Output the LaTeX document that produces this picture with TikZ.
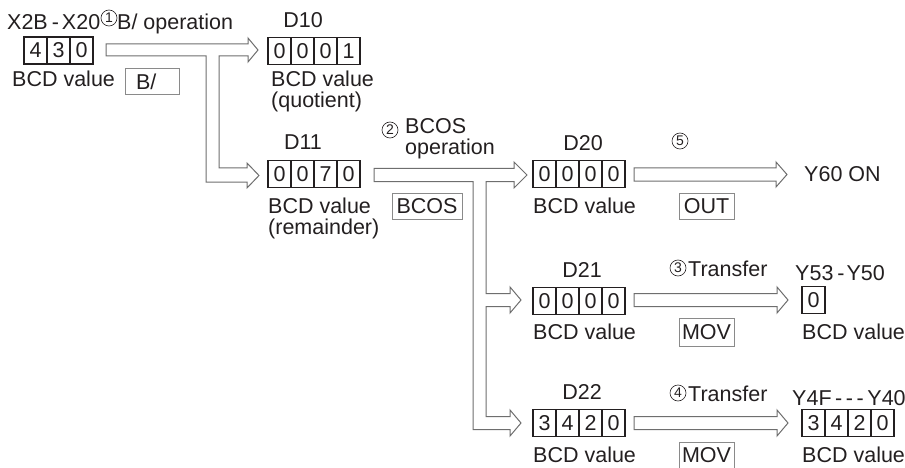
\documentclass[tikz,border=0pt]{standalone}
\usepackage{fontspec}
\setmainfont{Liberation Sans}
\definecolor{ink}{HTML}{231F20}
\definecolor{arrowgray}{HTML}{6E6E6E}
\definecolor{boxgray}{HTML}{8A8A8A}
\newcommand{\regbox}[4]{%
  \foreach \dg [count=\k] in {#4}{%
    \node[cell] (#1-\k) at ({#2+11.5+23*(\k-1)},#3) {\dg};}}
\begin{document}
\begin{tikzpicture}[x=1pt,y=-1pt,
  txt/.style={font=\fontsize{21.5}{21}\selectfont, inner sep=0pt, text=ink, align=left},
  cell/.style={draw=ink, line width=1.3pt, minimum width=23pt, minimum height=27pt,
    inner sep=0pt, font=\fontsize{21.5}{21}\selectfont, text=ink},
  lbox/.style={draw=boxgray, line width=0.9pt, minimum height=26pt, inner sep=0pt,
    font=\fontsize{21.5}{21}\selectfont, text=ink},
  num/.style={circle, draw=ink, line width=0.6pt, minimum size=16pt, inner sep=0pt,
    font=\fontsize{14}{14}\selectfont, text=ink},
  blk/.style={draw=arrowgray, line width=1pt, fill=white, line join=miter}]
\useasboundingbox (0,0) rectangle (905,468);

% ---------- block arrows ----------
\draw[blk] (106,44) -- (248,44) -- (248,38) -- (258,50) -- (248,62) -- (248,56)
  -- (219,56) -- (219,168) -- (247,168) -- (247,163) -- (259,175.5) -- (247,188)
  -- (247,182) -- (206,182) -- (206,56) -- (106,56) -- cycle;
\draw[blk] (374,168.5) -- (514,168.5) -- (514,162) -- (527,175) -- (514,188) -- (514,181.5)
  -- (486,181.5) -- (486,293.5) -- (510,293.5) -- (510,287) -- (521,300) -- (510,313)
  -- (510,306.5) -- (486,306.5) -- (486,416.5) -- (510,416.5) -- (510,410) -- (521,423)
  -- (510,436) -- (510,429.5) -- (473,429.5) -- (473,181.5) -- (374,181.5) -- cycle;
\draw[blk] (634,168) -- (776,168) -- (776,162) -- (787,174.5) -- (776,187) -- (776,181)
  -- (634,181) -- cycle;
\draw[blk] (634,293.5) -- (777,293.5) -- (777,287) -- (788,300) -- (777,313) -- (777,306.5)
  -- (634,306.5) -- cycle;
\draw[blk] (634,416.5) -- (777,416.5) -- (777,410) -- (788,423) -- (777,436) -- (777,429.5)
  -- (634,429.5) -- cycle;

% ---------- source ----------
\node[txt, anchor=base west] (xlab) at (7,30) {X2B\hspace{4pt}-\hspace{3pt}X20};
\node[num] (n1) at (109,18) {1};
\node[txt, anchor=base west] (op1) at (117,30) {B/ operation};
\regbox{src}{24}{50.5}{4,3,0}
\node[txt, anchor=base west] (srcv) at (12,87) {BCD value};
\node[lbox, minimum width=54pt] (bdiv) at (152,81.5) {\makebox[32pt][l]{B/}};

% ---------- D10 / D11 ----------
\node[txt] (d10l) at (303,20) {D10};
\regbox{d10}{268}{51}{0,0,0,1}
\node[txt, anchor=base west] (d10v) at (271,108) {BCD value\\(quotient)};
\node[txt] (d11l) at (303,142) {D11};
\regbox{d11}{268}{174}{0,0,7,0}
\node[txt, anchor=base west] (d11v) at (268,234) {BCD value\\(remainder)};

% ---------- BCOS ----------
\node[num] (n2) at (390,130) {2};
\node[txt, anchor=base west] (op2) at (405,155) {BCOS\\operation};
\node[lbox, minimum width=70pt] (bcos) at (427,206) {BCOS};

% ---------- D20 ----------
\node[txt] (d20l) at (583,143) {D20};
\regbox{d20}{533}{174}{0,0,0,0}
\node[txt, anchor=base west] (d20v) at (533,213) {BCD value};
\node[num] (n5) at (680,141) {5};
\node[lbox, minimum width=55pt] (out) at (706.5,206.5) {OUT};
\node[txt, anchor=base west] (y60) at (804,181) {Y60 ON};

% ---------- D21 ----------
\node[txt] (d21l) at (582,270) {D21};
\regbox{d21}{533}{301}{0,0,0,0}
\node[txt, anchor=base west] (d21v) at (533,339) {BCD value};
\node[num] (n3) at (678,268) {3};
\node[txt, anchor=base west] (tr3) at (688,276) {Transfer};
\node[lbox, minimum width=55pt, minimum height=28pt] (mov1) at (706.5,332) {MOV};
\node[txt, anchor=base west] (y53) at (795,280) {Y53\hspace{4pt}-\hspace{2pt}Y50};
\regbox{y5}{802}{300}{0}
\node[txt, anchor=base west] (y5v) at (802,339) {BCD value};

% ---------- D22 ----------
\node[txt] (d22l) at (582,392) {D22};
\regbox{d22}{533}{423}{3,4,2,0}
\node[txt, anchor=base west] (d22v) at (533,462) {BCD value};
\node[num] (n4) at (678,393) {4};
\node[txt, anchor=base west] (tr4) at (688,401) {Transfer};
\node[lbox, minimum width=55pt, minimum height=26pt] (mov2) at (706.5,455) {MOV};
\node[txt, anchor=base west] (y4f) at (792,405) {Y4F\,-\,-\,-\,Y40};
\regbox{y4}{802}{423}{3,4,2,0}
\node[txt, anchor=base west] (y4v) at (802,462) {BCD value};
\end{tikzpicture}
\end{document}
